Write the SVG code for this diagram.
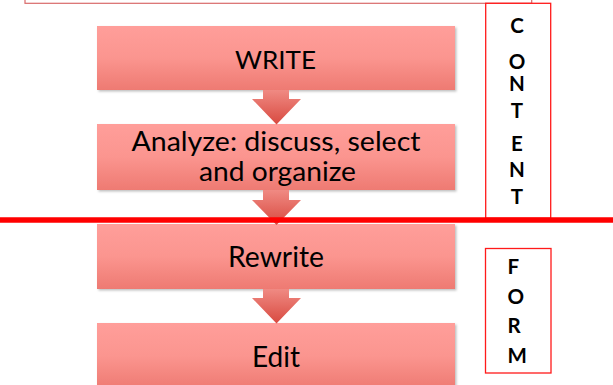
<svg xmlns="http://www.w3.org/2000/svg" width="613" height="385" viewBox="0 0 613 385">
<style>
.box{fill:url(#boxGrad);filter:url(#shadow)}
.arrow{fill:url(#arrowGrad)}
.lbl{font-family:Lato,"Open Sans","Liberation Sans",sans-serif;fill:#000;text-anchor:middle}
.side{font-family:Lato,"Open Sans","Liberation Sans",sans-serif;font-weight:bold;font-size:20.5px;fill:#000}
.frame{fill:#fff;stroke:#ff1a1a;stroke-width:1.3}
</style>
<defs>
<linearGradient id="boxGrad" x1="0" y1="0" x2="0" y2="1">
<stop offset="0" stop-color="#ff9e9a"/>
<stop offset="0.5" stop-color="#fb958f"/>
<stop offset="1" stop-color="#ee7a72"/>
</linearGradient>
<linearGradient id="arrowGrad" x1="0" y1="0" x2="0" y2="1">
<stop offset="0" stop-color="#f08a83"/>
<stop offset="1" stop-color="#d84a40"/>
</linearGradient>
<filter id="shadow" x="-5%" y="-10%" width="110%" height="125%">
<feDropShadow dx="1.5" dy="1.5" stdDeviation="0.8" flood-color="#000" flood-opacity="0.25"/>
</filter>
</defs>
<rect width="613" height="385" fill="#fff"/>
<rect id="topbox" x="25" y="-30" width="506.7" height="33.3" fill="none" stroke="#d96a6a" stroke-width="1.2"/>
<g id="content">
<rect class="frame" x="485.7" y="3.3" width="65" height="215"/>
<text class="side" text-anchor="middle" x="517" y="33.3">C</text>
<text class="side" text-anchor="middle" x="517" y="69">O</text>
<text class="side" text-anchor="middle" x="517" y="90.7">N</text>
<text class="side" text-anchor="middle" x="517" y="118.3">T</text>
<text class="side" text-anchor="middle" x="517" y="150.7">E</text>
<text class="side" text-anchor="middle" x="517" y="177.3">N</text>
<text class="side" text-anchor="middle" x="517" y="204">T</text>
</g>
<g id="form">
<rect class="frame" x="485.5" y="248.5" width="65.5" height="124.5"/>
<text class="side" x="507.5" y="274.3">F</text>
<text class="side" x="507.5" y="304.3">O</text>
<text class="side" x="507.5" y="333.3">R</text>
<text class="side" x="507.5" y="362.7">M</text>
</g>
<g id="write">
<rect class="box" x="97" y="26" width="358" height="64"/>
<text class="lbl" x="275.5" y="68.7" font-size="25" textLength="81" lengthAdjust="spacingAndGlyphs">WRITE</text>
</g>
<g id="analyze">
<rect class="box" x="97" y="124" width="358" height="66"/>
<text class="lbl" x="276" y="150.7" font-size="27" textLength="289" lengthAdjust="spacingAndGlyphs">Analyze: discuss, select</text>
<text class="lbl" x="277.5" y="180.7" font-size="27" textLength="157" lengthAdjust="spacingAndGlyphs">and organize</text>
</g>
<g id="rewrite">
<rect class="box" x="97" y="224" width="358" height="65"/>
<text class="lbl" x="276" y="267.3" font-size="28" textLength="96" lengthAdjust="spacingAndGlyphs">Rewrite</text>
</g>
<g id="edit">
<rect class="box" x="97" y="323" width="358" height="66"/>
<text class="lbl" x="276" y="366.7" font-size="28" textLength="48" lengthAdjust="spacingAndGlyphs">Edit</text>
</g>
<g id="connectors">
<polygon class="arrow" points="263,90 289,90 289,99 301,99 276.5,124.5 252,99 263,99"/>
<polygon class="arrow" points="263,190 289,190 289,200 301,200 276.5,225 252,200 263,200"/>
<polygon class="arrow" points="263,289 289,289 289,298 301,298 276.5,323.5 252,298 263,298"/>
</g>
<line id="divider" x1="0" y1="220" x2="613" y2="220" stroke="#ff0000" stroke-width="5.4"/>
</svg>
